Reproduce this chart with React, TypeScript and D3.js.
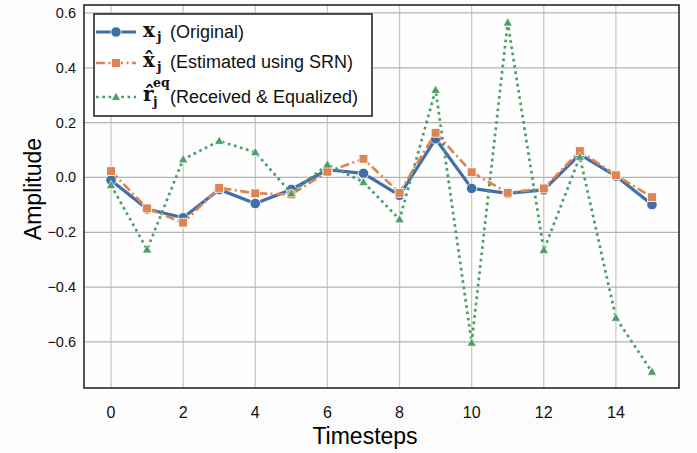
import React from "react";
import * as d3 from "d3";

const timesteps = [0, 1, 2, 3, 4, 5, 6, 7, 8, 9, 10, 11, 12, 13, 14, 15];
const original = [-0.01, -0.115, -0.147, -0.044, -0.095, -0.044, 0.028, 0.015, -0.065, 0.141, -0.04, -0.058, -0.045, 0.084, 0.005, -0.099];
const estimated = [0.023, -0.113, -0.165, -0.038, -0.058, -0.062, 0.021, 0.068, -0.056, 0.163, 0.019, -0.056, -0.04, 0.096, 0.008, -0.072];
const equalized = [-0.028, -0.263, 0.066, 0.133, 0.092, -0.058, 0.047, -0.017, -0.153, 0.319, -0.603, 0.565, -0.265, 0.075, -0.512, -0.709];
const xTicks = [0, 2, 4, 6, 8, 10, 12, 14];
const yTicks = [-0.6, -0.4, -0.2, 0.0, 0.2, 0.4, 0.6];

const W = 697, H = 453;
const L = 84, R = 679, T = 5, B = 388;
const BLUE = "#3f6ea8", ORANGE = "#dd8452", GREEN = "#4c9e69";
const SANS = "'Liberation Sans', Arial, sans-serif";
const SERIF = "'DejaVu Serif', serif";

export default function App() {
  const x = d3.scaleLinear().domain([-0.75, 15.75]).range([L, R]);
  const y = d3.scaleLinear().domain([-0.768, 0.629]).range([B, T]);
  const line = (vals: number[]) =>
    d3.line<number>().x((_, i) => x(timesteps[i])).y((v) => y(v))(vals) || "";

  const tri = (cx: number, cy: number, s: number) =>
    `M${cx},${cy - s}L${cx + s * 0.95},${cy + s * 0.7}L${cx - s * 0.95},${cy + s * 0.7}Z`;

  return (
    <svg width={W} height={H} style={{ position: "absolute", left: 0, top: 0, background: "#fbfcfb" }}>
      <rect x={0} y={0} width={W} height={H} fill="#fbfcfb" />
      <rect x={L} y={T} width={R - L} height={B - T} fill="#fdfefd" />
      {/* grid */}
      {xTicks.map((t) => (
        <line key={"gx" + t} x1={x(t)} x2={x(t)} y1={T} y2={B} stroke="#c9c9c9" strokeWidth={1.3} />
      ))}
      {yTicks.map((t) => (
        <line key={"gy" + t} x1={L} x2={R} y1={y(t)} y2={y(t)} stroke="#b3b3b3" strokeWidth={1.3} />
      ))}
      {/* series: original */}
      <path d={line(original)} fill="none" stroke={BLUE} strokeWidth={3.2} strokeLinejoin="round" />
      {original.map((v, i) => (
        <circle key={"o" + i} cx={x(timesteps[i])} cy={y(v)} r={5.2} fill={BLUE} stroke="#fff" strokeWidth={0.8} />
      ))}
      {/* estimated */}
      <path d={line(estimated)} fill="none" stroke={ORANGE} strokeWidth={2.7} strokeDasharray="9,3.5,2,3.5" />
      {estimated.map((v, i) => (
        <rect key={"e" + i} x={x(timesteps[i]) - 4.4} y={y(v) - 4.4} width={8.8} height={8.8} fill={ORANGE} stroke="#fff" strokeWidth={0.8} />
      ))}
      {/* equalized */}
      <path d={line(equalized)} fill="none" stroke={GREEN} strokeWidth={2.7} strokeDasharray="2.7,3.6" />
      {equalized.map((v, i) => (
        <path key={"q" + i} d={tri(x(timesteps[i]), y(v), 4.8)} fill={GREEN} stroke="#fff" strokeWidth={0.6} />
      ))}
      {/* frame */}
      <rect x={L} y={T} width={R - L} height={B - T} fill="none" stroke="#1a1a1a" strokeWidth={1.5} />
      {/* tick labels */}
      {xTicks.map((t) => (
        <text key={"tx" + t} x={x(t)} y={417.5} textAnchor="middle" fontFamily={SANS} fontSize={16} fill="#111">
          {t}
        </text>
      ))}
      {yTicks.map((t) => (
        <text key={"ty" + t} x={76} y={y(t) + 5} textAnchor="end" fontFamily={SANS} fontSize={14.5} fill="#111">
          {d3.format(".1f")(t)}
        </text>
      ))}
      <text x={365} y={444} textAnchor="middle" fontFamily={SANS} fontSize={23} fill="#000">
        Timesteps
      </text>
      <text transform="translate(41,189) rotate(-90)" textAnchor="middle" fontFamily={SANS} fontSize={23} fill="#000">
        Amplitude
      </text>
      {/* legend */}
      <g>
        <rect x={94} y={14} width={278} height={102} fill="#fff" stroke="#1a1a1a" strokeWidth={1.5} />
        {/* row 1 */}
        <line x1={96} x2={136} y1={32} y2={32} stroke={BLUE} strokeWidth={3.2} />
        <circle cx={116} cy={32} r={5.2} fill={BLUE} stroke="#fff" strokeWidth={0.8} />
        <text x={143} y={37} fontFamily={SERIF} fontWeight="bold" fontSize={20} fill="#111">x</text>
        <text x={157} y={41} fontFamily={SERIF} fontWeight="bold" fontSize={12.5} fill="#111">j</text>
        <text x={170} y={38} fontFamily={SANS} fontSize={18} fill="#111">(Original)</text>
        {/* row 2 */}
        <line x1={96} x2={136} y1={63} y2={63} stroke={ORANGE} strokeWidth={2.7} strokeDasharray="9,3.5,2,3.5" />
        <rect x={116 - 4.4} y={63 - 4.4} width={8.8} height={8.8} fill={ORANGE} stroke="#fff" strokeWidth={0.8} />
        <text x={143} y={67} fontFamily={SERIF} fontWeight="bold" fontSize={20} fill="#111">{"x\u0302"}</text>
        <text x={157} y={71} fontFamily={SERIF} fontWeight="bold" fontSize={12.5} fill="#111">j</text>
        <text x={170} y={68} fontFamily={SANS} fontSize={18} fill="#111">(Estimated using SRN)</text>
        {/* row 3 */}
        <line x1={96} x2={136} y1={97} y2={97} stroke={GREEN} strokeWidth={2.7} strokeDasharray="2.7,3.6" />
        <path d={tri(116, 97, 4.8)} fill={GREEN} stroke="#fff" strokeWidth={0.6} />
        <text x={143} y={101} fontFamily={SERIF} fontWeight="bold" fontSize={20} fill="#111">{"r\u0302"}</text>
        <text x={153} y={87} fontFamily={SERIF} fontWeight="bold" fontSize={12.5} fill="#111">eq</text>
        <text x={153} y={106} fontFamily={SERIF} fontWeight="bold" fontSize={12.5} fill="#111">j</text>
        <text x={170} y={103} fontFamily={SANS} fontSize={18} fill="#111">(Received &amp; Equalized)</text>
      </g>
    </svg>
  );
}
